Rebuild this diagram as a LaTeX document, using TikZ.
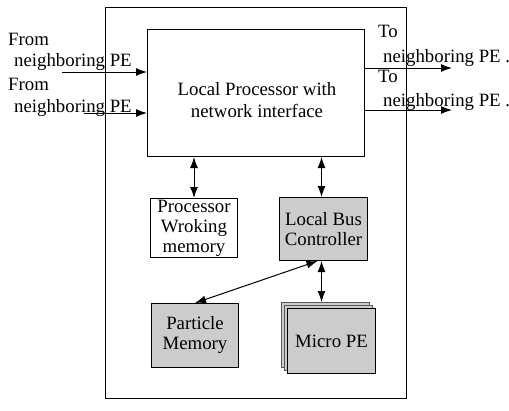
\documentclass[tikz,border=0pt]{standalone}
\usepackage{fontspec}
\setmainfont{Liberation Serif}
\usetikzlibrary{arrows.meta}
\begin{document}
\begin{tikzpicture}[x=1pt,y=-1pt,
  box/.style={draw, line width=1pt, anchor=north west, align=center, inner sep=0pt},
  shaded/.style={box, fill=gray!40},
  lbl/.style={anchor=base west, inner sep=0pt},
  arr/.style={line width=1pt, -{Latex[length=11pt,width=8pt]}},
  darr/.style={line width=1pt, {Latex[length=11pt,width=8pt]}-{Latex[length=11pt,width=8pt]}},
  every node/.style={font=\fontsize{18.8}{20}\selectfont}]
\useasboundingbox (0,0) rectangle (509,410);
\node[box, minimum width=301pt, minimum height=391pt] (outer) at (105,7) {};
\node[box, minimum width=217pt, minimum height=127pt] (proc) at (147,29) {};
\node[anchor=base, inner sep=0pt] (pt1) at (257,95) {Local Processor with};
\node[anchor=base, inner sep=0pt] (pt2) at (257,117) {network interface};
\node[box, minimum width=87pt, minimum height=59pt] (pwm) at (150,198) {Processor\\Wroking\\memory};
\node[shaded, minimum width=88pt, minimum height=63pt] (lbc) at (279,197) {Local Bus\\Controller};
\node[shaded, minimum width=87pt, minimum height=64pt] (pm) at (151,303) {Particle\\Memory};
\node[shaded, draw=gray!70!black, minimum width=88pt, minimum height=65pt] (mpe3) at (281,302) {};
\node[shaded, draw=gray!70!black, minimum width=88pt, minimum height=65pt] (mpe2) at (284,305) {};
\node[shaded, minimum width=88pt, minimum height=65pt] (mpe) at (287,308) {Micro PE};
% labels left
\node[lbl] (f1) at (8,45) {From};
\node[lbl] (n1) at (14,66) {neighboring PE};
\node[lbl] (f2) at (8,90) {From};
\node[lbl] (n2) at (14,112) {neighboring PE};
% labels right
\node[lbl] (t1) at (378,37) {To};
\node[lbl] (m1) at (383,62) {neighboring PE .};
\node[lbl] (t2) at (378,82) {To};
\node[lbl] (m2) at (383,106) {neighboring PE .};
% in/out arrows
\coordinate (in1) at (62,72);
\coordinate (in2) at (84,113);
\coordinate (out1) at (452,68);
\coordinate (out2) at (452,110);
\draw[arr] (in1) -- (in1 -| proc.west);
\draw[arr] (in2) -- (in2 -| proc.west);
\draw[arr] (out1 -| proc.east) -- (out1);
\draw[arr] (out2 -| proc.east) -- (out2);
% internal arrows
\draw[darr] (pwm.north |- proc.south) -- (pwm.north);
\draw[darr] ([xshift=-2pt]lbc.north |- proc.south) -- ([xshift=-2pt]lbc.north);
\draw[darr] ([xshift=-2pt]lbc.south) -- ([xshift=-2pt]lbc.south |- mpe3.north);
\draw[darr] ([xshift=-6pt]lbc.south) -- (pm.north);
\end{tikzpicture}
\end{document}
